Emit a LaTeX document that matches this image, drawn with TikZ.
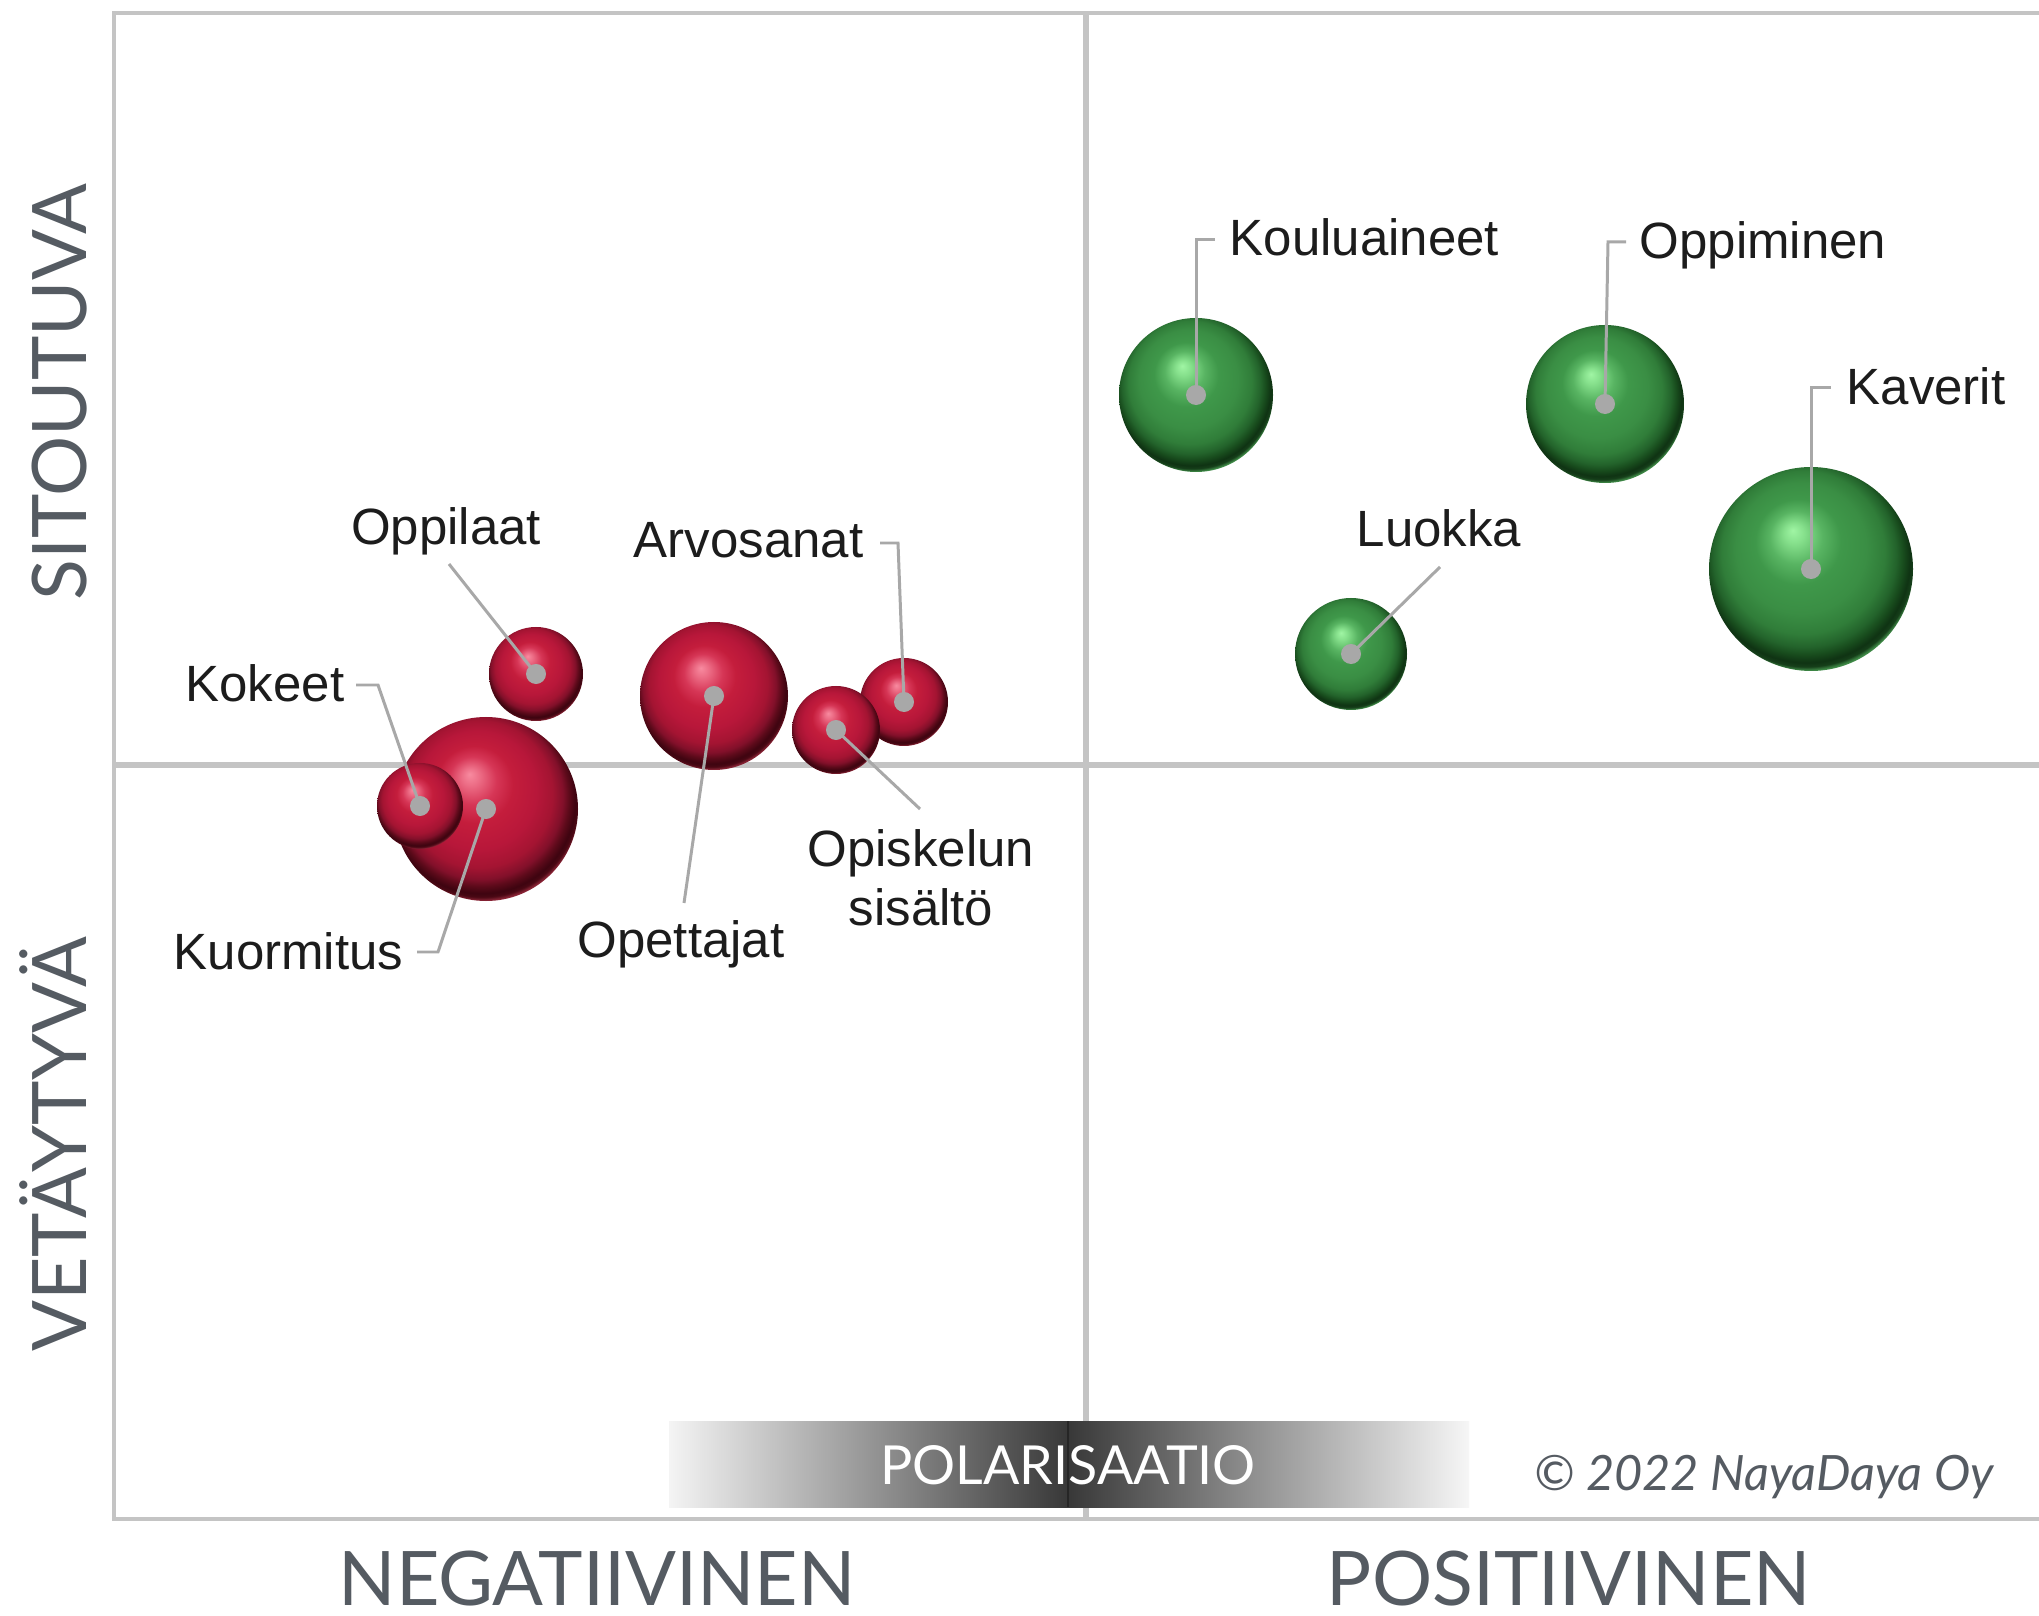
\documentclass[tikz,border=0pt]{standalone}
\usepackage{fontspec}
\setmainfont{Liberation Sans}
\newfontfamily\lato{Lato}
\definecolor{framec}{HTML}{C4C4C4}
\definecolor{axisc}{HTML}{555B62}
\definecolor{labc}{HTML}{1C1C1C}
\definecolor{leadc}{HTML}{A8A8A8}
\definecolor{barL}{HTML}{F4F4F4}
\definecolor{barC}{HTML}{383838}
\definecolor{barR}{HTML}{F6F6F6}
% red sphere colours
\definecolor{r0}{HTML}{F88BA0}
\definecolor{r1}{HTML}{EC6C85}
\definecolor{r2}{HTML}{D63656}
\definecolor{r3}{HTML}{C41D3C}
\definecolor{r4}{HTML}{B8173A}
\definecolor{r5}{HTML}{A41432}
\definecolor{r6}{HTML}{82102A}
\definecolor{r7}{HTML}{5C0A1A}
\definecolor{r8}{HTML}{3E0410}
\definecolor{r9}{HTML}{4A0814}
\definecolor{r10}{HTML}{8A2436}
\definecolor{r11}{HTML}{A03444}
% green sphere colours
\definecolor{g0}{HTML}{A0F5A4}
\definecolor{g1}{HTML}{86E08C}
\definecolor{g2}{HTML}{58B462}
\definecolor{g3}{HTML}{3F984A}
\definecolor{g4}{HTML}{3A8E44}
\definecolor{g5}{HTML}{307D39}
\definecolor{g6}{HTML}{23632B}
\definecolor{g7}{HTML}{184C1D}
\definecolor{g8}{HTML}{0F3313}
\definecolor{g9}{HTML}{163F1A}
\definecolor{g10}{HTML}{3F8A47}
\definecolor{g11}{HTML}{4E9A56}
% the path is mapped onto the central 50bp square: sphere radius = 25bp
\pgfdeclareradialshading{redball}{\pgfpoint{-4.5bp}{9.5bp}}{%
  color(0bp)=(r0); color(2.5bp)=(r1); color(6.5bp)=(r2); color(10.5bp)=(r3);
  color(16bp)=(r4); color(20bp)=(r5); color(22.5bp)=(r6); color(24bp)=(r7);
  color(25.5bp)=(r8); color(26.3bp)=(r9); color(27bp)=(r10); color(35bp)=(r11)}
\pgfdeclareradialshading{greenball}{\pgfpoint{-4.5bp}{9.5bp}}{%
  color(0bp)=(g0); color(2.5bp)=(g1); color(6.5bp)=(g2); color(10.5bp)=(g3);
  color(16bp)=(g4); color(20bp)=(g5); color(22.5bp)=(g6); color(24bp)=(g7);
  color(25.5bp)=(g8); color(26.3bp)=(g9); color(27bp)=(g10); color(35bp)=(g11)}
\begin{document}
\begin{tikzpicture}[x=0.01cm,y=-0.01cm,
  frame/.style={draw=framec, line width=1.15pt},
  midline/.style={draw=framec, line width=1.6pt},
  axislab/.style={text=axisc, inner sep=0pt, font=\lato\fontsize{21.4}{24}\selectfont},
  redsph/.style={circle, inner sep=0pt, shade, shading=redball, minimum size=2*#1*0.01cm},
  greensph/.style={circle, inner sep=0pt, shade, shading=greenball, minimum size=2*#1*0.01cm},
  leader/.style={draw=leadc, line width=0.85pt},
  dotc/.style={fill=leadc},
  lab/.style={text=labc, inner sep=0pt, font=\fontsize{14.5}{16.8}\selectfont}]
\useasboundingbox (0,0) rectangle (2039,1616);
\fill[white] (0,0) rectangle (2039,1616);

% frame and axes
\draw[frame] (2039,13) -- (114,13) -- (114,1519) -- (2039,1519);
\draw[midline] (1086,13) -- (1086,1519);
\draw[midline] (114,765) -- (2039,765);

% polarisation bar
\shade[left color=barL, right color=barC] (669,1421) rectangle (1068,1507);
\shade[left color=barC, right color=barR] (1068,1421) rectangle (1469,1507);
\draw[black!85, line width=0.4pt] (1068,1421) -- (1068,1507);
\node[text=white, inner sep=0pt, font=\lato\fontsize{15.3}{16}\selectfont] (pol) at (1068,1465) {POLARISAATIO};
\node[text=axisc, inner sep=0pt, anchor=base, font=\lato\itshape\fontsize{13.85}{16}\selectfont] (copy) at (1764,1490) {© 2022 NayaDaya Oy};

% axis labels
\node[axislab, rotate=90, anchor=base] (sit) at (87,392) {SITOUTUVA};
\node[axislab, rotate=90, anchor=base] (vet) at (87,1144) {VETÄYTYVÄ};
\node[axislab, anchor=base] (neg) at (597,1605) {NEGATIIVINEN};
\node[axislab, anchor=base] (pos) at (1569,1605) {POSITIIVINEN};

% red spheres
\node[redsph=92] (kuo) at (486,809) {};
\node[redsph=43] (kok) at (420,806) {};
\node[redsph=47] (opl) at (536,674) {};
\node[redsph=74] (ope) at (714,696) {};
\node[redsph=44] (arv) at (904,702) {};
\node[redsph=44] (opi) at (836,730) {};
% green spheres
\node[greensph=77] (kou) at (1196,395) {};
\node[greensph=79] (opm) at (1605,404) {};
\node[greensph=102] (kav) at (1811,569) {};
\node[greensph=56] (luo) at (1351,654) {};

% labels
\node[lab, anchor=base west] (tkou) at (1229,256) {Kouluaineet};
\node[lab, anchor=base west] (topm) at (1639,259) {Oppiminen};
\node[lab, anchor=base west] (tkav) at (1846,405) {Kaverit};
\node[lab, anchor=base] (tluo) at (1439,547) {Luokka};
\node[lab, anchor=base] (topl) at (446,545) {Oppilaat};
\node[lab, anchor=base east] (tarv) at (864,558) {Arvosanat};
\node[lab, anchor=base east] (tkok) at (345,702) {Kokeet};
\node[lab, anchor=base east] (tkuo) at (404,969) {Kuormitus};
\node[lab, anchor=base] (tope) at (681,957) {Opettajat};
\node[lab, anchor=north, align=center] (topi) at (921,829) {Opiskelun\\sisältö};

% leader bends
\coordinate (kou1) at (1196,240);
\coordinate (kou2) at (1215,240);
\coordinate (opm1) at (1608,242);
\coordinate (opm2) at (1626,242);
\coordinate (kav1) at (1811,388);
\coordinate (kav2) at (1831,388);
\coordinate (luo1) at (1440,567);
\coordinate (opl1) at (449,564);
\coordinate (arv1) at (898,543);
\coordinate (arv2) at (880,543);
\coordinate (kok1) at (378,685);
\coordinate (kok2) at (356,685);
\coordinate (kuo1) at (438,952);
\coordinate (kuo2) at (417,952);
\coordinate (ope1) at (684,903);
\coordinate (opi1) at (920,809);

% leaders
\draw[leader] (kou.center) -- (kou1) -- (kou2);
\draw[leader] (opm.center) -- (opm1) -- (opm2);
\draw[leader] (kav.center) -- (kav1) -- (kav2);
\draw[leader] (luo.center) -- (luo1);
\draw[leader] (opl.center) -- (opl1);
\draw[leader] (arv.center) -- (arv1) -- (arv2);
\draw[leader] (kok.center) -- (kok1) -- (kok2);
\draw[leader] (kuo.center) -- (kuo1) -- (kuo2);
\draw[leader] (ope.center) -- (ope1);
\draw[leader] (opi.center) -- (opi1);

% dots
\foreach \n in {kuo,kok,opl,ope,arv,opi,kou,opm,kav,luo}
  \fill[dotc] (\n.center) circle (0.1cm);
\end{tikzpicture}
\end{document}
